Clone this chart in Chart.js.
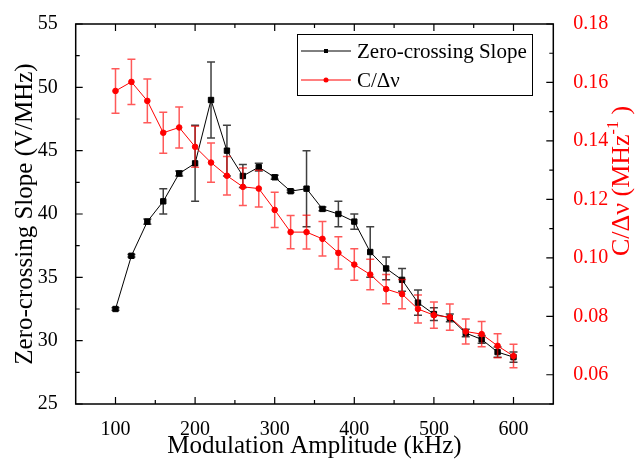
<!DOCTYPE html>
<html>
<head>
<meta charset="utf-8">
<script src="https://cdn.jsdelivr.net/npm/chart.js@4.4.1/dist/chart.umd.min.js"></script>
<style>
  body { margin: 0; background: #fff; }
</style>
</head>
<body>
<canvas id="chart" width="641" height="459"></canvas>
<script>
// modulation amplitude in kHz
var amplitude = [100, 120, 140, 160, 180, 200, 220, 240, 260, 280, 300, 320, 340,
                 360, 380, 400, 420, 440, 460, 480, 500, 520, 540, 560, 580, 600];

// zero-crossing slope (V/MHz) and its error
var slope    = [32.5, 36.7, 39.4, 41.0, 43.2, 44.0, 49.0, 45.0, 43.0, 43.7, 42.9, 41.8, 42.0,
                40.4, 40.0, 39.4, 37.0, 35.7, 34.8, 33.0, 32.1, 31.8, 30.6, 30.1, 29.1, 28.7];
var slopeErr = [0.1, 0.1, 0.2, 1.0, 0.2, 3.0, 3.0, 2.0, 0.9, 0.3, 0.15, 0.1, 3.0,
                0.15, 1.0, 0.6, 2.0, 0.9, 0.9, 1.0, 0.5, 0.3, 0.3, 0.3, 0.4, 0.4];

// C / delta nu (1/MHz) and its error
var ratio    = [0.1571, 0.1602, 0.1537, 0.1428, 0.1446, 0.1380, 0.1326, 0.1281, 0.1243, 0.1237,
                0.1164, 0.1088, 0.1088, 0.1065, 0.1017, 0.0977, 0.0943, 0.0893, 0.0876, 0.0825,
                0.0804, 0.0797, 0.0748, 0.0739, 0.0699, 0.0664];
var ratioErr = [0.0076, 0.0077, 0.0075, 0.0070, 0.0070, 0.0070, 0.0067, 0.0066, 0.0064, 0.0063,
                0.0060, 0.0057, 0.0058, 0.0059, 0.0055, 0.0054, 0.0052, 0.0050, 0.0050, 0.0048,
                0.0045, 0.0045, 0.0043, 0.0043, 0.0041, 0.0040];

// tick labels
var xTicks = [100, 200, 300, 400, 500, 600];
var leftTicks = [25, 30, 35, 40, 45, 50, 55];
var rightTicks = [0.06, 0.08, 0.10, 0.12, 0.14, 0.16, 0.18];

var serif = "'Liberation Serif', 'Times New Roman', serif";

function pts(ys) {
  return amplitude.map(function (x, i) { return { x: x, y: ys[i] }; });
}

function setTicks(list) {
  return function (scale) {
    scale.ticks = list.map(function (v) { return { value: v }; });
  };
}

// error bars, drawn just before each dataset's line
var errorBars = {
  id: 'errorBars',
  beforeDatasetDraw: function (chart, args) {
    var ds = chart.data.datasets[args.index];
    var ys = chart.scales[ds.yAxisID];
    var xs = chart.scales.x;
    var ctx = chart.ctx;
    ctx.save();
    ctx.strokeStyle = ds.errColor;
    ctx.lineWidth = 1.5;
    ds.data.forEach(function (p, i) {
      var px = xs.getPixelForValue(p.x);
      var top = ys.getPixelForValue(p.y + ds.err[i]);
      var bot = ys.getPixelForValue(p.y - ds.err[i]);
      ctx.beginPath();
      ctx.moveTo(px, top); ctx.lineTo(px, bot);
      ctx.moveTo(px - 4, top); ctx.lineTo(px + 4, top);
      ctx.moveTo(px - 4, bot); ctx.lineTo(px + 4, bot);
      ctx.stroke();
    });
    ctx.restore();
  }
};

// frame, inward ticks, legend, right axis title
var frame = {
  id: 'frame',
  afterDraw: function (chart) {
    var ctx = chart.ctx;
    var a = chart.chartArea;
    var xs = chart.scales.x, yl = chart.scales.y, yr = chart.scales.y2;
    ctx.save();
    ctx.strokeStyle = '#000';
    ctx.lineWidth = 1.5;
    ctx.strokeRect(a.left, a.top, a.right - a.left, a.bottom - a.top);

    ctx.lineWidth = 1.2;
    ctx.beginPath();
    xTicks.forEach(function (v) {
      var px = xs.getPixelForValue(v);
      ctx.moveTo(px, a.bottom); ctx.lineTo(px, a.bottom - 7);
      ctx.moveTo(px, a.top); ctx.lineTo(px, a.top + 7);
      var m = xs.getPixelForValue(v + 50);
      if (m < a.right - 2) {
        ctx.moveTo(m, a.bottom); ctx.lineTo(m, a.bottom - 4);
        ctx.moveTo(m, a.top); ctx.lineTo(m, a.top + 4);
      }
    });
    leftTicks.forEach(function (v) {
      var py = yl.getPixelForValue(v);
      ctx.moveTo(a.left, py); ctx.lineTo(a.left + 7, py);
      if (v < 55) {
        var m = yl.getPixelForValue(v + 2.5);
        ctx.moveTo(a.left, m); ctx.lineTo(a.left + 4, m);
      }
    });
    rightTicks.forEach(function (v) {
      var py = yr.getPixelForValue(v);
      ctx.moveTo(a.right, py); ctx.lineTo(a.right - 7, py);
      var m = yr.getPixelForValue(v - 0.01);
      ctx.moveTo(a.right, m); ctx.lineTo(a.right - 4, m);
    });
    ctx.stroke();

    // legend
    ctx.lineWidth = 1;
    ctx.strokeRect(297.5, 34.5, 235, 61);
    ctx.font = '21px ' + serif;
    ctx.textBaseline = 'middle';
    ctx.textAlign = 'left';
    chart.data.datasets.forEach(function (ds, i) {
      var y = 51 + i * 29;
      ctx.strokeStyle = ds.borderColor;
      ctx.beginPath();
      ctx.moveTo(301, y); ctx.lineTo(351, y);
      ctx.stroke();
      ctx.fillStyle = ds.borderColor;
      ctx.beginPath();
      if (ds.pointStyle === 'rect') ctx.rect(324, y - 2, 4, 4);
      else ctx.arc(326, y, 2.5, 0, Math.PI * 2);
      ctx.fill();
      ctx.fillStyle = '#000';
      ctx.fillText(ds.label, 357, y + 1);
    });

    // right axis title with superscript
    ctx.translate(621, 181);
    ctx.rotate(-Math.PI / 2);
    ctx.fillStyle = '#ff0000';
    var main = 'C/\u0394\u03bd (MHz';
    var sup = '-1';
    var end = ' )';
    ctx.font = '26px ' + serif;
    var w1 = ctx.measureText(main).width;
    var w3 = ctx.measureText(end).width;
    ctx.font = '16px ' + serif;
    var w2 = ctx.measureText(sup).width;
    var x0 = -(w1 + w2 + w3) / 2;
    ctx.textBaseline = 'alphabetic';
    ctx.font = '26px ' + serif;
    ctx.fillText(main, x0, 8);
    ctx.font = '16px ' + serif;
    ctx.fillText(sup, x0 + w1, -3);
    ctx.font = '26px ' + serif;
    ctx.fillText(end, x0 + w1 + w2, 8);
    ctx.restore();
  }
};

new Chart(document.getElementById('chart'), {
  type: 'line',
  data: {
    datasets: [
      {
        label: 'Zero-crossing Slope',
        data: pts(slope),
        err: slopeErr,
        errColor: 'rgba(0,0,0,0.75)',
        yAxisID: 'y',
        borderColor: '#000000',
        backgroundColor: '#000000',
        borderWidth: 1,
        pointStyle: 'rect',
        pointRadius: 3.8,
        order: 1
      },
      {
        label: 'C/\u0394\u03bd',
        data: pts(ratio),
        err: ratioErr,
        errColor: 'rgba(255,0,0,0.65)',
        yAxisID: 'y2',
        borderColor: '#ff0000',
        backgroundColor: '#ff0000',
        borderWidth: 1,
        pointStyle: 'circle',
        pointRadius: 2.8,
        order: 0
      }
    ]
  },
  options: {
    responsive: false,
    animation: false,
    layout: { padding: { top: 19, left: 0, right: 0, bottom: 0 } },
    plugins: { legend: { display: false }, tooltip: { enabled: false } },
    scales: {
      x: {
        type: 'linear',
        min: 50, max: 650,
        afterBuildTicks: setTicks(xTicks),
        afterFit: function (s) { s.height = 55; },
        grid: { display: false },
        border: { display: false },
        ticks: { padding: 6, color: '#000', font: { family: serif, size: 20 } },
        title: {
          display: true,
          text: 'Modulation Amplitude (kHz)',
          color: '#000',
          font: { family: serif, size: 25, lineHeight: 1 },
          padding: { top: 0, bottom: 0 }
        }
      },
      y: {
        position: 'left',
        min: 25, max: 55,
        afterBuildTicks: setTicks(leftTicks),
        afterFit: function (s) { s.width = 75.7; },
        grid: { display: false },
        border: { display: false },
        ticks: { padding: 10, color: '#000', font: { family: serif, size: 20 } },
        title: {
          display: true,
          text: 'Zero-crossing Slope (V/MHz)',
          color: '#000',
          font: { family: serif, size: 25, lineHeight: 1 },
          padding: { top: 13, bottom: 0 }
        }
      },
      y2: {
        position: 'right',
        min: 0.05, max: 0.18,
        afterBuildTicks: setTicks(rightTicks),
        afterFit: function (s) { s.width = 87.7; },
        grid: { display: false },
        border: { display: false },
        ticks: {
          padding: 12,
          color: '#ff0000',
          font: { family: serif, size: 20 },
          callback: function (v) { return v.toFixed(2); }
        }
      }
    }
  },
  plugins: [errorBars, frame]
});
</script>
</body>
</html>
